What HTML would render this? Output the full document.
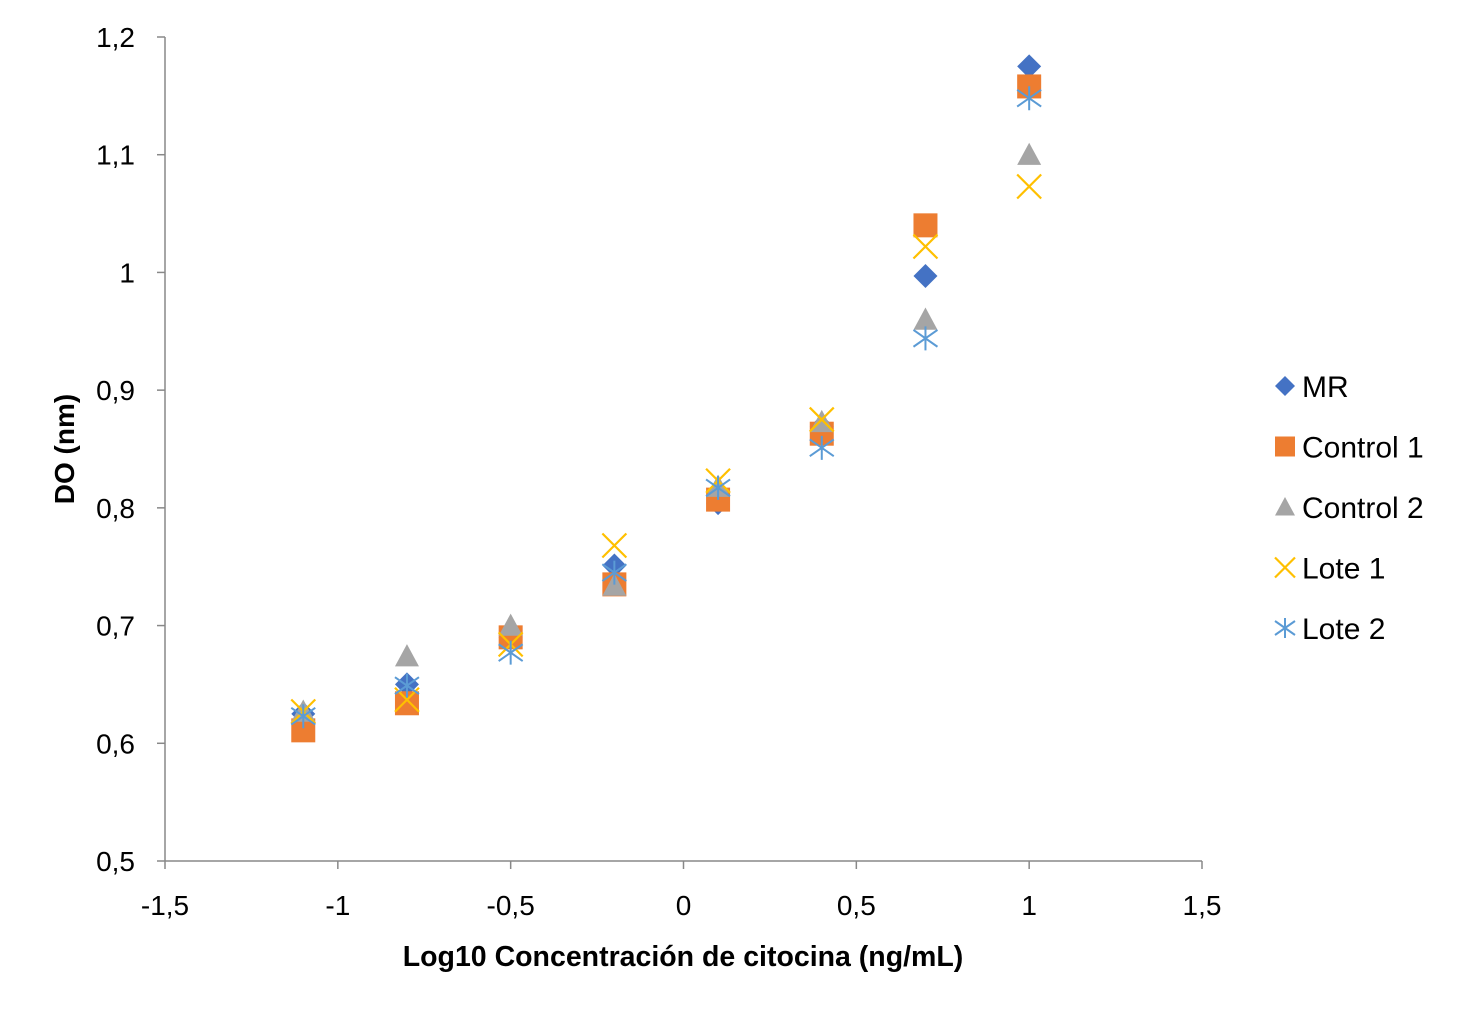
<!DOCTYPE html>
<html><head><meta charset="utf-8"><style>
body{margin:0;background:#fff;}
svg text{font-family:"Liberation Sans",sans-serif;}
</style></head><body>
<svg id="chart" width="1466" height="1020" xmlns="http://www.w3.org/2000/svg">
<g id="axes"></g><g id="marks"></g><g id="legend"></g>
<text x="683" y="966" text-anchor="middle" font-size="28.5" font-weight="bold">Log10 Concentración de citocina (ng/mL)</text>
<text transform="translate(74,449) rotate(-90)" text-anchor="middle" font-size="28" font-weight="bold">DO (nm)</text>
</svg>
<script>
const xCats = [-1.1,-0.8,-0.5,-0.2,0.1,0.4,0.7,1.0];
const seriesNames = ["MR","Control 1","Control 2","Lote 1","Lote 2"];
const mrVals = [0.625,0.650,0.690,0.751,0.804,0.869,0.997,1.175];
const c1Vals = [0.611,0.634,0.690,0.735,0.807,0.863,1.040,1.158];
const c2Vals = [0.627,0.674,0.700,0.734,0.818,0.873,0.960,1.100];
const l1Vals = [0.627,0.637,0.684,0.768,0.823,0.875,1.022,1.073];
const l2Vals = [0.623,0.649,0.677,0.745,0.817,0.851,0.944,1.148];
const xTicks = [-1.5,-1,-0.5,0,0.5,1,1.5];
const yTicks = [0.5,0.6,0.7,0.8,0.9,1.0,1.1,1.2];

const NS="http://www.w3.org/2000/svg";
const X0=165,X1=1202,Y0=861,Y1=37;
const xs=v=>X0+(v+1.5)/3*(X1-X0);
const ys=v=>Y0-(v-0.5)/0.7*(Y0-Y1);
const fmt=v=>String(Math.round(v*10)/10).replace('.',',');
function mk(tag,attrs,parent){const e=document.createElementNS(NS,tag);for(const k in attrs)e.setAttribute(k,attrs[k]);parent.appendChild(e);return e;}
const axes=document.getElementById('axes');
let l=mk('line',{x1:X0,y1:Y0,x2:X1,y2:Y0,stroke:'#888','stroke-width':1.5},axes);


l=mk('line',{x1:X0,y1:Y0,x2:X0,y2:Y1,stroke:'#888','stroke-width':1.5},axes);


xTicks.forEach(t=>{const x=xs(t);
 mk('line',{x1:x,y1:Y0,x2:x,y2:Y0+8,stroke:'#888','stroke-width':1.5},axes);
 const tx=mk('text',{x:x,y:915,'text-anchor':'middle','font-size':28},axes);tx.textContent=fmt(t);
 
 });
yTicks.forEach(t=>{const y=ys(t);
 mk('line',{x1:X0-8,y1:y,x2:X0,y2:y,stroke:'#888','stroke-width':1.5},axes);
 const tx=mk('text',{x:135,y:y+10,'text-anchor':'end','font-size':28},axes);tx.textContent=fmt(t);
 
 });
const colors=['#4472C4','#ED7D31','#A5A5A5','#FFC000','#5B9BD5'];
function marker(k,x,y,parent,s){s=s||12;let e;
 if(k===0)e=mk('polygon',{points:`${x},${y-s} ${x+s},${y} ${x},${y+s} ${x-s},${y}`,fill:colors[0]},parent);
 else if(k===1)e=mk('rect',{x:x-s,y:y-s,width:2*s,height:2*s,fill:colors[1]},parent);
 else if(k===2)e=mk('polygon',{points:`${x},${y-s} ${x+s},${y+s*0.85} ${x-s},${y+s*0.85}`,fill:colors[2]},parent);
 else if(k===3){e=mk('path',{d:`M${x-s},${y-s}L${x+s},${y+s}M${x-s},${y+s}L${x+s},${y-s}`,stroke:colors[3],'stroke-width':2.2,fill:'none'},parent);}
 else {e=mk('path',{d:`M${x-s},${y-s*0.7}L${x+s},${y+s*0.7}M${x-s},${y+s*0.7}L${x+s},${y-s*0.7}M${x},${y-s}L${x},${y+s}`,stroke:colors[4],'stroke-width':2,fill:'none'},parent);}
 return e;}
const marks=document.getElementById('marks');
const all=[mrVals,c1Vals,c2Vals,l1Vals,l2Vals];
const keys=['mr','control-1','control-2','lote-1','lote-2'];
all.forEach((vals,k)=>vals.forEach((v,i)=>{const e=marker(k,xs(xCats[i]),ys(v),marks);
 
 }));
const leg=document.getElementById('legend');
seriesNames.forEach((n,k)=>{const y=386+k*60.5;
 const g=mk('g',{},leg);
 
 
 marker(k,1285,y,g,10);
 const t=mk('text',{x:1302,y:y+11,'font-size':30},g);t.textContent=n;});
</script>
</body></html>
